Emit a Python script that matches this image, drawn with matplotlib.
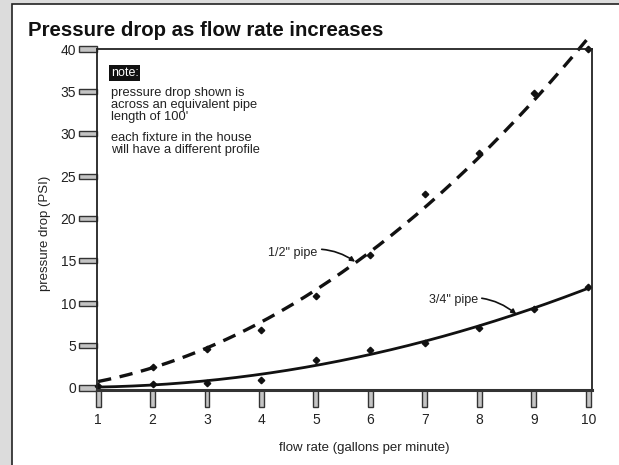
import numpy as np
import matplotlib.pyplot as plt
from matplotlib.patches import Rectangle

plt.rcParams["font.family"] = ["Liberation Sans", "DejaVu Sans"]

# Datos
caudal = [1, 2, 3, 4, 5, 6, 7, 8, 9, 10]
caudal_media = [2, 3, 4, 5, 6, 7, 8, 9, 10]
presion_media = [2.5, 4.6, 6.8, 10.8, 15.7, 22.9, 27.7, 34.8, 40.0]
presion_tres_cuartos = [0.2, 0.5, 0.6, 0.9, 3.3, 4.5, 5.3, 7.1, 9.3, 11.9]

ticks_y = [0, 5, 10, 15, 20, 25, 30, 35, 40]
ticks_x = caudal

titulo = "Pressure drop as flow rate increases"
nota = "pressure drop shown is\nacross an equivalent pipe\nlength of 100'"
nota2 = "each fixture in the house\nwill have a different profile"

fig = plt.figure(figsize=(6.19, 4.65), dpi=100, facecolor="#dcdcdc")

# Marco blanco del recuadro
W, H = 619, 465
fondo = Rectangle((12 / W, -0.1), 1, 1.1 - 4 / H, transform=fig.transFigure,
                  facecolor="white", edgecolor="#222222", linewidth=1.2,
                  zorder=-5)
fig.patches.append(fondo)

ax = fig.add_axes([97 / W, 1 - 390 / H, 495 / W, 341 / H])
ax.set_xlim(0.98, 10.07)
ax.set_ylim(-0.24, 40)
ax.set_facecolor("none")

for s in ["left", "top", "right"]:
    ax.spines[s].set_linewidth(1.3)
    ax.spines[s].set_color("#222222")
ax.spines["bottom"].set_linewidth(2.2)
ax.spines["bottom"].set_color("#333333")

# Curvas de tendencia (ajuste cuadratico de los puntos)
xs = np.linspace(1, 10, 200)
c_media = np.polyfit([1] + caudal_media, [1.3] + presion_media, 2)
c_tres = np.polyfit(caudal, presion_tres_cuartos, 2)
ax.plot(xs, np.polyval(c_media, xs), color="#111111", lw=2.4,
        dashes=(4, 2.6), clip_on=False)
ax.plot(xs, np.polyval(c_tres, xs), color="#111111", lw=2.0, clip_on=False)

ax.plot(caudal_media, presion_media, "D", color="#111111", ms=3.3,
        clip_on=False)
ax.plot(caudal, presion_tres_cuartos, "D", color="#111111", ms=3.3,
        clip_on=False)

# Ticks huecos (rectangulos grises)
ax.set_xticks(ticks_x)
ax.set_yticks(ticks_y)
ax.tick_params(axis="y", length=13, color="none", pad=2, labelsize=10,
               labelcolor="#222222")
ax.tick_params(axis="x", length=12.5, color="none", pad=4, labelsize=10,
               labelcolor="#222222")
for v in ticks_y:
    ax.add_patch(Rectangle((-18 / 495, v - 0.3), 18 / 495, 0.6,
                           transform=ax.get_yaxis_transform(),
                           facecolor="#c4c4c4", edgecolor="#333333",
                           linewidth=1.0, clip_on=False))
for v in ticks_x:
    ax.add_patch(Rectangle((v - 0.045, -17 / 341), 0.09, 17 / 341,
                           transform=ax.get_xaxis_transform(),
                           facecolor="#c4c4c4", edgecolor="#333333",
                           linewidth=1.0, clip_on=False))

ax.set_ylabel("pressure drop (PSI)", fontsize=9.5, color="#222222")
ax.yaxis.set_label_coords(-0.093, 0.46)
ax.set_xlabel("flow rate (gallons per minute)", fontsize=9.5, color="#222222")
ax.xaxis.set_label_coords(0.54, -0.152)

# Titulo
fig.text(28 / W, 1 - 30 / H, titulo, fontsize=14.7, fontweight="bold",
         color="#111111", va="center", ha="left")

# Nota
ax.text(0.028, 0.93, "note:", transform=ax.transAxes, fontsize=9,
        color="white", va="center", ha="left",
        bbox=dict(boxstyle="square,pad=0.15", facecolor="#111111",
                  edgecolor="none"))
ax.text(0.028, 0.89, nota, transform=ax.transAxes, fontsize=9.3,
        color="#222222", va="top", ha="left", linespacing=1.02)
ax.text(0.028, 0.758, nota2, transform=ax.transAxes, fontsize=9.3,
        color="#222222", va="top", ha="left", linespacing=1.02)

# Etiquetas de las tuberias
ax.annotate("1/2\" pipe", xy=(5.72, 14.9), xytext=(5.03, 15.9),
            fontsize=9, color="#222222", ha="right", va="center",
            arrowprops=dict(arrowstyle="-|>", color="#111111", lw=1.2,
                            mutation_scale=7,
                            connectionstyle="arc3,rad=-0.25",
                            shrinkA=1, shrinkB=0))
ax.annotate("3/4\" pipe", xy=(8.68, 8.7), xytext=(7.97, 10.4),
            fontsize=9, color="#222222", ha="right", va="center",
            arrowprops=dict(arrowstyle="-|>", color="#111111", lw=1.2,
                            mutation_scale=7,
                            connectionstyle="arc3,rad=-0.25",
                            shrinkA=1, shrinkB=0))

fig.savefig("out.png", dpi=100, facecolor=fig.get_facecolor())
